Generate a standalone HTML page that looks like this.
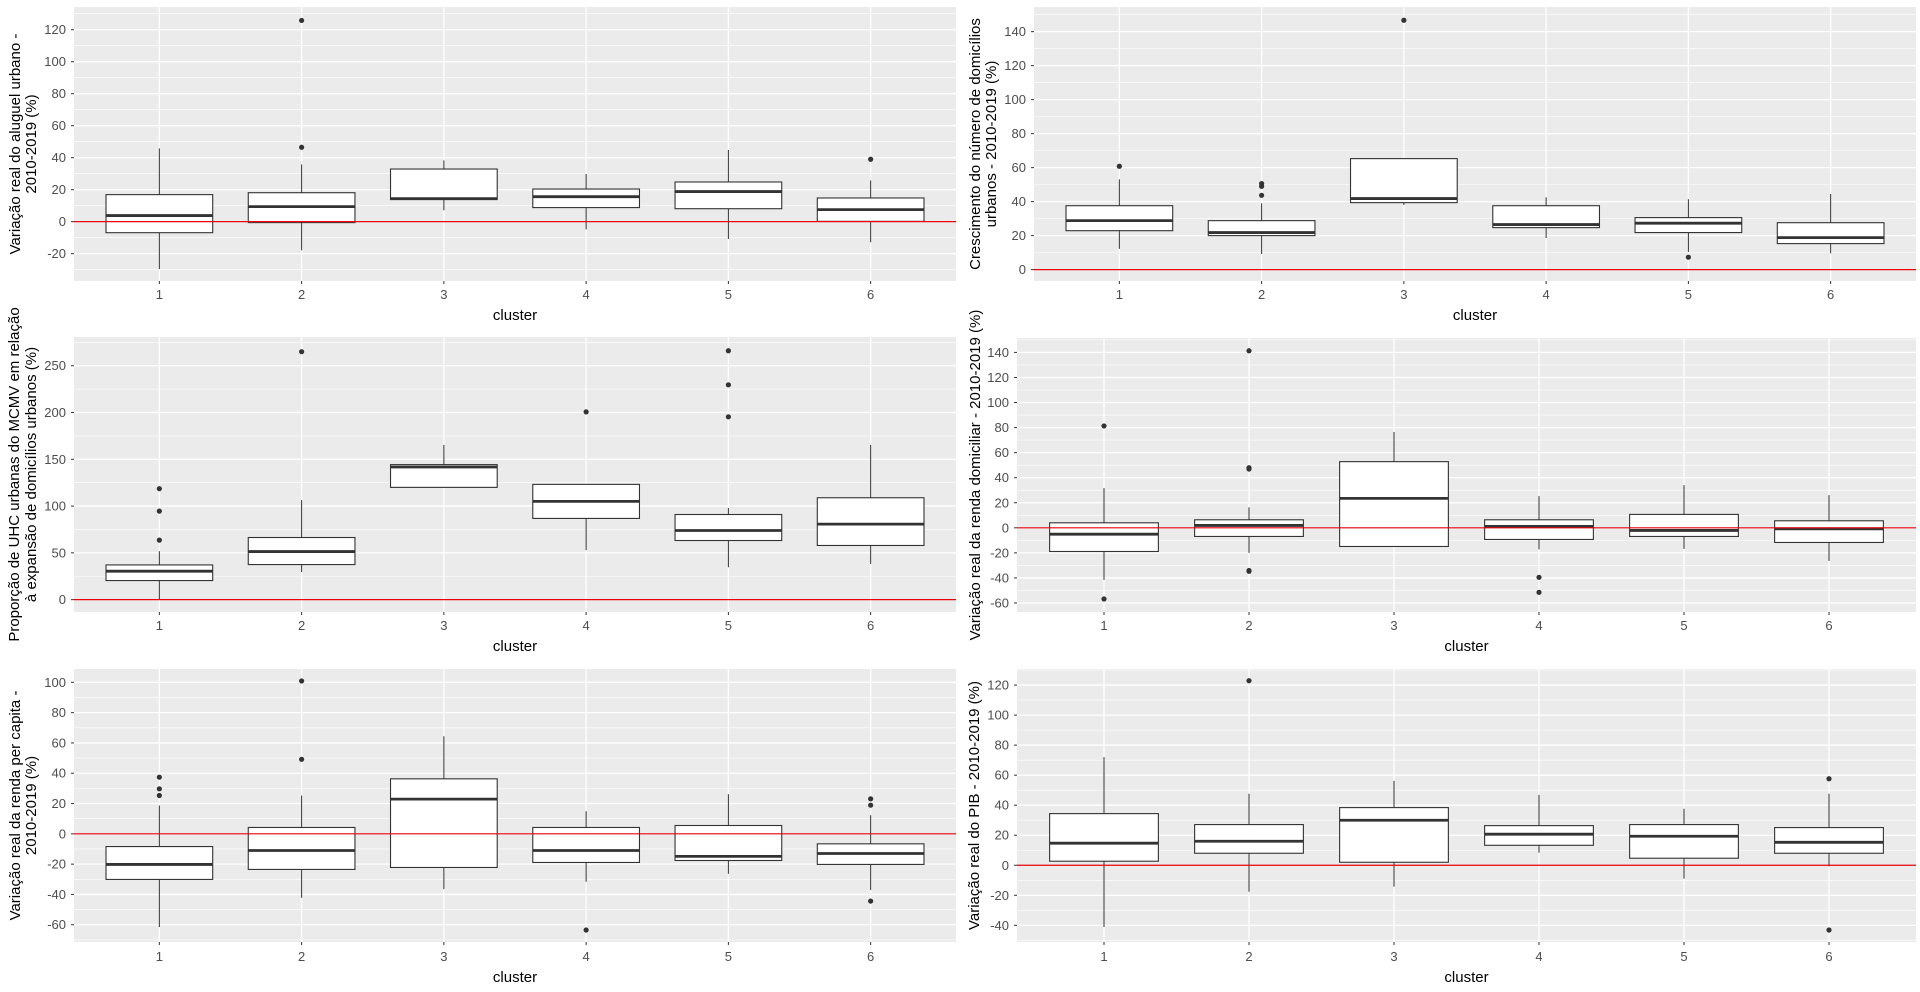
<!DOCTYPE html>
<html><head><meta charset="utf-8"><style>
html,body{margin:0;padding:0;background:#fff}
svg{display:block;font-family:"Liberation Sans",Arial,sans-serif}
</style></head><body>
<svg id="chart" width="1920" height="992" viewBox="0 0 1920 992" xmlns="http://www.w3.org/2000/svg"></svg>
<script>
// Categories
const clusters = ["1","2","3","4","5","6"];
// Box stats per cluster: [lower whisker, q1, median, q3, upper whisker]
const p1Stats = [[-29.6,-6.9,3.8,16.9,45.8],[-17.9,-0.6,9.4,18.1,35.8],[7.1,13.8,14.4,32.9,38.3],[-4.8,8.8,15.6,20.4,29.8],[-10.8,8.1,18.8,24.8,44.8],[-12.9,0.2,7.5,14.8,25.8]];
const p1Out = [[],[125.8,46.5],[],[],[],[39]];
const p2Stats = [[12.2,22.9,28.8,37.6,53.1],[9.2,20,21.8,28.8,39],[38,39.4,41.8,65.3,65.3],[18.6,24.7,26.5,37.6,42.5],[10.4,21.8,27.3,30.6,41.4],[9.6,15.3,18.8,27.6,44.5]];
const p2Out = [[60.8],[50.6,49,43.7],[146.7],[],[7.3],[]];
const p3Stats = [[0,20.4,30.4,37.1,51.8],[29.6,37.5,51.4,66.4,106.4],[120,120,141.8,144.3,165.4],[52.9,86.8,105,123.2,123.2],[34.6,63.2,73.9,91,97.9],[38.2,57.9,80.7,108.9,165.4]];
const p3Out = [[118.6,94.6,63.6],[265],[],[200.7],[266,229.6,195.4],[]];
const p4Stats = [[-41.6,-18.9,-5.1,4,31.7],[-20,-6.9,1.9,6.4,16.3],[-14.9,-14.9,23.5,52.8,76.5],[-17.1,-9.3,1.1,6.4,25.3],[-16.8,-6.9,-2.1,10.7,34.1],[-26.4,-11.7,-0.8,5.6,26.1]];
const p4Out = [[81.3,-56.8],[141.3,48,46.9,-34.1,-34.7],[],[-39.5,-51.5],[],[]];
const p5Stats = [[-61.5,-30.1,-20.2,-8.4,18.7],[-42.2,-23.5,-11,4.2,25.3],[-36.5,-22.2,22.9,36.3,64.4],[-31.6,-18.9,-11,4.2,14.9],[-26.4,-17.6,-14.9,5.5,26.2],[-37.1,-20.2,-13,-6.6,12.3]];
const p5Out = [[37.4,29.7,25.3],[100.9,49.2],[],[-63.5],[],[23.1,18.9,-44.4]];
const p6Stats = [[-41.1,2.7,14.7,34.4,72],[-17.6,8,16,27.1,47.6],[-14.2,2,30,38.4,56.2],[8.4,13.3,20.7,26.4,46.9],[-8.9,4.7,19.3,27.1,37.6],[-0.7,8,15.3,25.1,47.6]];
const p6Out = [[],[122.9],[],[],[],[57.6,-43.1]];
// Tick labels
const p1Ticks = [-20,0,20,40,60,80,100,120];
const p2Ticks = [0,20,40,60,80,100,120,140];
const p3Ticks = [0,50,100,150,200,250];
const p4Ticks = [-60,-40,-20,0,20,40,60,80,100,120,140];
const p5Ticks = [-60,-40,-20,0,20,40,60,80,100];
const p6Ticks = [-40,-20,0,20,40,60,80,100,120];

const NS="http://www.w3.org/2000/svg";
const svg=document.getElementById("chart");
function mk(tag,attrs,parent){const e=document.createElementNS(NS,tag);for(const k in attrs)e.setAttribute(k,attrs[k]);(parent||svg).appendChild(e);return e;}

const panels=[
 {id:"aluguel",stats:p1Stats,out:p1Out,ticks:p1Ticks,minor:10,x0:74,x1:956,y0:7,y1:281,dmin:-37.1,dmax:134.2,labX:66,titleX:[15,31],title:["Variação real do aluguel urbano -","2010-2019 (%)"],tickY:295,clY:320},
 {id:"domicilios",stats:p2Stats,out:p2Out,ticks:p2Ticks,minor:10,x0:1034,x1:1916,y0:7,y1:281,dmin:-6.7,dmax:154.5,labX:1026,titleX:[975,991],title:["Crescimento do número de domicílios","urbanos - 2010-2019 (%)"],tickY:295,clY:320},
 {id:"mcmv",stats:p3Stats,out:p3Out,ticks:p3Ticks,minor:25,x0:74,x1:956,y0:337,y1:612,dmin:-13.2,dmax:280.7,labX:66,titleX:[14,31],title:["Proporção de UHC urbanas do MCMV em relação","à expansão de domicílios urbanos (%)"],tickY:626,clY:651},
 {id:"renda-domiciliar",stats:p4Stats,out:p4Out,ticks:p4Ticks,minor:10,x0:1017,x1:1916,y0:338,y1:612,dmin:-67.2,dmax:151.5,labX:1009,titleX:[975],title:["Variação real da renda domiciliar - 2010-2019 (%)"],tickY:626,clY:651},
 {id:"renda-per-capita",stats:p5Stats,out:p5Out,ticks:p5Ticks,minor:10,x0:74,x1:956,y0:669,y1:942,dmin:-71.4,dmax:108.8,labX:66,titleX:[15,31],title:["Variação real da renda per capita -","2010-2019 (%)"],tickY:957,clY:982},
 {id:"pib",stats:p6Stats,out:p6Out,ticks:p6Ticks,minor:10,x0:1017,x1:1916,y0:669,y1:942,dmin:-51.1,dmax:130.7,labX:1009,titleX:[974],title:["Variação real do PIB - 2010-2019 (%)"],tickY:957,clY:982}
];

panels.forEach(p=>{
  const g=mk("g",{});
  
  
  const n=clusters.length;
  const band=(p.x1-p.x0)/(n-1+1.2);
  const xs=i=>p.x0+band*(0.6+i);
  const ys=v=>p.y1-(v-p.dmin)/(p.dmax-p.dmin)*(p.y1-p.y0);
  const bg=mk("rect",{x:p.x0,y:p.y0,width:p.x1-p.x0,height:p.y1-p.y0,fill:"#ebebeb"},g);
  
  
  // minor grid
  for(let v=Math.ceil(p.dmin/p.minor)*p.minor; v<=p.dmax; v+=p.minor){
    mk("line",{x1:p.x0,x2:p.x1,y1:ys(v),y2:ys(v),stroke:"#fff","stroke-width":p.ticks.includes(v)?1.3:0.6},g);
  }
  clusters.forEach((c,i)=>{mk("line",{x1:xs(i),x2:xs(i),y1:p.y0,y2:p.y1,stroke:"#fff","stroke-width":1.3},g);});
  // y ticks
  p.ticks.forEach(v=>{
    mk("line",{x1:p.x0-3,x2:p.x0,y1:ys(v),y2:ys(v),stroke:"#333","stroke-width":1},g);
    const t=mk("text",{x:p.labX,y:ys(v)+4.5,"text-anchor":"end","font-size":13,fill:"#4d4d4d"},g);
    t.textContent=v;
    
    
  });
  // boxes
  clusters.forEach((c,i)=>{
    const s=p.stats[i],cx=xs(i),hw=band*0.375;
    const bx=mk("g",{},g);
    
    
    mk("line",{x1:cx,x2:cx,y1:ys(s[0]),y2:ys(s[1]),stroke:"#333","stroke-width":1},bx);
    mk("line",{x1:cx,x2:cx,y1:ys(s[3]),y2:ys(s[4]),stroke:"#333","stroke-width":1},bx);
    mk("rect",{x:cx-hw,y:ys(s[3]),width:2*hw,height:Math.max(0.5,ys(s[1])-ys(s[3])),fill:"#fff",stroke:"#333","stroke-width":1.1},bx);
    mk("line",{x1:cx-hw,x2:cx+hw,y1:ys(s[2]),y2:ys(s[2]),stroke:"#333","stroke-width":2.8},bx);
    p.out[i].forEach(v=>{
      const o=mk("circle",{cx:cx,cy:ys(v),r:2.6,fill:"#333"},bx);
      
      
    });
    mk("line",{x1:cx,x2:cx,y1:p.y1,y2:p.y1+3,stroke:"#333","stroke-width":1},g);
    const t=mk("text",{x:cx,y:p.tickY+4,"text-anchor":"middle","font-size":13,fill:"#4d4d4d"},g);
    t.textContent=c;
    
    
  });
  // zero line
  const z=mk("line",{x1:p.x0,x2:p.x1,y1:ys(0),y2:ys(0),stroke:"#e8000b","stroke-width":1.2},g);
  
  
  // x title
  const xt=mk("text",{x:(p.x0+p.x1)/2,y:p.clY,"text-anchor":"middle","font-size":15,fill:"#000"},g);
  xt.textContent="cluster";
  
  
  // y title
  const cy=(p.y0+p.y1)/2;
  p.title.forEach((line,k)=>{
    const x=p.titleX[k]+5;
    const t=mk("text",{x:x,y:cy,"text-anchor":"middle","font-size":15,fill:"#000",transform:"rotate(-90 "+x+" "+cy+")"},g);
    t.textContent=line;
    
    
  });
});
</script>
</body></html>
